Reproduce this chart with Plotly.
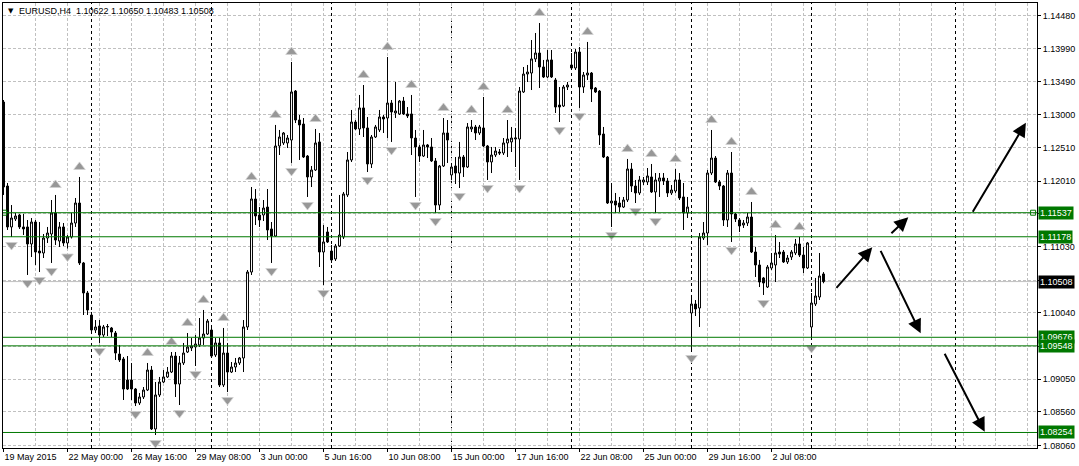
import plotly.graph_objects as go

# ---------------- data (EURUSD H4, bar index 0 = 19 May 2015 08:00) ----------------
OPEN = [1.13191,1.11936,1.11324,1.11443,1.11503,1.11324,1.11324,1.11070,1.11398,1.10965,
        1.10935,1.11159,1.11219,1.11533,1.11114,1.11324,1.11085,1.11174,1.11383,1.11682,
        1.10786,1.10338,1.10009,1.09785,1.09845,1.09710,1.09830,1.09815,1.09740,1.09426,
        1.09352,1.09038,1.09038,1.08903,1.08694,1.08784,1.08888,1.09187,1.08306,1.08814,
        1.09008,1.09083,1.09157,1.09396,1.08978,1.09292,1.09456,1.09516,1.09531,1.09561,
        1.09665,1.09725,1.09785,1.09411,1.09591,1.08963,1.09441,1.09157,1.09232,1.09292,
        1.09367,1.09830,1.10651,1.11742,1.11503,1.11503,1.11622,1.11294,1.11189,1.12534,
        1.12579,1.12579,1.12623,1.13355,1.12922,1.12862,1.12384,1.12071,1.12175,1.12594,
        1.10950,1.11249,1.10965,1.10846,1.11040,1.11174,1.11802,1.12325,1.12892,1.12788,
        1.13102,1.12803,1.12265,1.12668,1.12773,1.12967,1.12952,1.13176,1.13027,1.13012,
        1.13206,1.13012,1.13012,1.12653,1.12519,1.12384,1.12549,1.12519,1.12310,1.11652,
        1.12235,1.12728,1.12101,1.12235,1.12130,1.12369,1.12220,1.12788,1.12818,1.12728,
        1.12803,1.12534,1.12295,1.12399,1.12444,1.12429,1.12579,1.12594,1.12638,1.12638,
        1.13341,1.13609,1.13624,1.13834,1.13923,1.13714,1.13565,1.13819,1.13520,1.13146,
        1.13131,1.13415,1.13744,1.13699,1.13938,1.13415,1.13594,1.13624,1.13400,1.13355,
        1.12713,1.12369,1.11682,1.11712,1.11682,1.11622,1.11727,1.12190,1.11936,1.11832,
        1.11996,1.11996,1.12071,1.11847,1.12011,1.12056,1.12011,1.11832,1.11861,1.12026,
        1.11772,1.11533,1.10039,1.10173,1.10113,1.11159,1.11234,1.12130,1.12354,1.11996,
        1.11936,1.11428,1.12130,1.11518,1.11428,1.11353,1.11383,1.11473,1.10950,1.10756,
        1.10562,1.10427,1.10711,1.10756,1.10950,1.10950,1.10801,1.10875,1.10935,1.11070,
        1.10905,1.10711,1.09830,1.10173,1.10278,1.10622]

HIGH = [1.13221,1.11981,1.11652,1.11533,1.11518,1.11518,1.11428,1.11458,1.11428,1.11398,
        1.11219,1.11324,1.11727,1.11802,1.11398,1.11383,1.11204,1.11533,1.11757,1.12071,
        1.10801,1.10368,1.10054,1.09934,1.09934,1.09860,1.09874,1.09830,1.09770,1.09561,
        1.09382,1.09396,1.09292,1.08918,1.08844,1.08933,1.09292,1.09247,1.09008,1.09083,
        1.09187,1.09232,1.09456,1.09456,1.09396,1.09591,1.09740,1.09665,1.09710,1.09964,
        1.10084,1.09949,1.09815,1.09665,1.09665,1.09815,1.09591,1.09307,1.09367,1.09382,
        1.09934,1.10681,1.11921,1.11891,1.11622,1.11727,1.11891,1.11398,1.12848,1.12773,
        1.12743,1.12698,1.13789,1.13370,1.12997,1.12952,1.12399,1.12235,1.12788,1.12728,
        1.11353,1.11324,1.11055,1.11070,1.11802,1.11847,1.12444,1.13072,1.12922,1.13296,
        1.13445,1.12967,1.12698,1.12848,1.13072,1.12997,1.13863,1.13221,1.13490,1.13221,
        1.13266,1.13116,1.13296,1.12773,1.12549,1.12773,1.12564,1.12653,1.12354,1.12250,
        1.12952,1.12922,1.12280,1.12369,1.12594,1.12399,1.12877,1.12922,1.12848,1.12848,
        1.13266,1.12549,1.12519,1.12519,1.12489,1.12653,1.12922,1.12818,1.12803,1.13415,
        1.13714,1.13744,1.14117,1.14222,1.14371,1.13819,1.13968,1.13968,1.13550,1.13415,
        1.13445,1.13490,1.13923,1.13983,1.14013,1.13639,1.14088,1.13639,1.13415,1.13370,
        1.12818,1.12384,1.11981,1.11832,1.11772,1.11772,1.12340,1.12280,1.12026,1.12086,
        1.12071,1.12205,1.12265,1.12130,1.12130,1.12130,1.12056,1.11951,1.12190,1.12130,
        1.11981,1.11772,1.10308,1.10233,1.11234,1.11398,1.12175,1.12773,1.12384,1.12026,
        1.11951,1.12175,1.12444,1.11533,1.11458,1.11428,1.11533,1.11697,1.11025,1.10831,
        1.10577,1.10756,1.10935,1.11204,1.11100,1.10980,1.10905,1.10980,1.11145,1.11174,
        1.11025,1.11100,1.10338,1.10562,1.10935,1.10650]

LOW = [1.11802,1.11279,1.11174,1.11413,1.11294,1.11204,1.10607,1.10875,1.10756,1.10651,
       1.10860,1.11085,1.10786,1.11055,1.11025,1.11040,1.11002,1.11152,1.11324,1.10756,
       1.10009,1.10009,1.09755,1.09740,1.09591,1.09680,1.09695,1.09680,1.09337,1.09307,
       1.08739,1.08888,1.08739,1.08649,1.08664,1.08754,1.08873,1.08291,1.08216,1.08784,
       1.08993,1.09068,1.09142,1.08784,1.08664,1.09262,1.09441,1.09471,1.09247,1.09531,
       1.09561,1.09710,1.09382,1.09382,1.08933,1.08933,1.08858,1.09142,1.09157,1.09262,
       1.09157,1.09785,1.10607,1.11353,1.11324,1.11413,1.11129,1.10786,1.11174,1.12399,
       1.12549,1.12504,1.12280,1.12877,1.12325,1.12354,1.11772,1.11921,1.12160,1.10726,
       1.10457,1.11085,1.10786,1.10816,1.11025,1.11144,1.11772,1.12295,1.12773,1.12698,
       1.12668,1.12145,1.12205,1.12653,1.12743,1.12728,1.12653,1.12594,1.12952,1.12997,
       1.12997,1.12952,1.12399,1.11772,1.12295,1.12369,1.12354,1.12295,1.11533,1.11578,
       1.12220,1.12280,1.12026,1.11966,1.11906,1.12071,1.12205,1.12743,1.12623,1.12698,
       1.12519,1.12026,1.12130,1.12369,1.12399,1.12399,1.12369,1.12444,1.12220,1.12026,
       1.13326,1.13490,1.13370,1.13789,1.13400,1.13550,1.13550,1.13550,1.13027,1.12892,
       1.13116,1.13370,1.13669,1.13669,1.13102,1.13326,1.13520,1.13191,1.13326,1.12549,
       1.12354,1.11667,1.11324,1.11533,1.11548,1.11607,1.11697,1.11846,1.11682,1.11802,
       1.11951,1.11951,1.11832,1.11533,1.11772,1.11951,1.11772,1.11802,1.11832,1.11727,
       1.11279,1.11458,1.09486,1.09994,1.09830,1.11129,1.11055,1.12100,1.11981,1.11876,
       1.11339,1.11324,1.11100,1.11398,1.11249,1.11309,1.11339,1.10935,1.10577,1.10427,
       1.10308,1.10412,1.10681,1.10502,1.10860,1.10786,1.10771,1.10831,1.10905,1.10875,
       1.10636,1.10696,1.09635,1.10143,1.10233,1.10483]

CLOSE = [1.11921,1.11324,1.11458,1.11488,1.11324,1.11294,1.11070,1.11398,1.10950,1.10935,
         1.11159,1.11234,1.11533,1.11129,1.11324,1.11085,1.11174,1.11383,1.11682,1.10786,
         1.10338,1.10084,1.09785,1.09830,1.09710,1.09830,1.09837,1.09755,1.09441,1.09337,
         1.08903,1.08903,1.08903,1.08694,1.08784,1.08888,1.09187,1.08306,1.08814,1.09008,
         1.09083,1.09157,1.09396,1.08978,1.09292,1.09441,1.09531,1.09546,1.09576,1.09665,
         1.09725,1.09919,1.09396,1.09591,1.08963,1.09441,1.09157,1.09232,1.09292,1.09367,
         1.09830,1.10651,1.11742,1.11488,1.11428,1.11607,1.11279,1.11189,1.12534,1.12668,
         1.12728,1.12653,1.13341,1.12922,1.12848,1.12369,1.12071,1.12175,1.12579,1.10950,
         1.11100,1.11100,1.10831,1.11040,1.11204,1.11817,1.12325,1.12892,1.12788,1.13102,
         1.12803,1.12265,1.12668,1.12818,1.12967,1.12937,1.13176,1.13042,1.13057,1.13206,
         1.13012,1.12982,1.12653,1.12519,1.12384,1.12549,1.12519,1.12310,1.11652,1.12235,
         1.12728,1.12623,1.12220,1.12130,1.12369,1.12220,1.12818,1.12818,1.12728,1.12818,
         1.12534,1.12295,1.12399,1.12459,1.12429,1.12579,1.12638,1.12653,1.12653,1.13355,
         1.13609,1.13639,1.13834,1.13923,1.13714,1.13565,1.13819,1.13565,1.13116,1.13116,
         1.13415,1.13445,1.13699,1.13938,1.13415,1.13594,1.13624,1.13385,1.13341,1.12698,
         1.12369,1.11682,1.11712,1.11652,1.11622,1.11727,1.12190,1.11936,1.11832,1.12026,
         1.12026,1.12086,1.11847,1.12026,1.12056,1.12011,1.11832,1.11876,1.12026,1.11757,
         1.11533,1.11622,1.10173,1.10099,1.11174,1.11234,1.12130,1.12354,1.11996,1.11936,
         1.11428,1.12130,1.11518,1.11443,1.11339,1.11383,1.11473,1.10950,1.10756,1.10502,
         1.10487,1.10726,1.10786,1.10935,1.10920,1.10801,1.10860,1.10950,1.11070,1.10905,
         1.10711,1.11085,1.10188,1.10293,1.10592,1.10508]

BAR_INDEX = list(range(len(OPEN)))

# Bill Williams fractals (bar indices)
FRACTAL_UP = [13, 19, 36, 42, 46, 50, 55, 62, 68, 72, 78, 90, 96, 102, 110, 117, 120,
              126, 134, 146, 156, 162, 168, 177, 182, 187, 193, 199]
FRACTAL_DOWN = [2, 6, 9, 12, 16, 24, 33, 38, 44, 48, 56, 67, 72, 76, 80, 91, 97, 103,
                108, 114, 121, 129, 139, 144, 152, 158, 163, 172, 182, 190, 202]

X_TICK_LABELS = ["19 May 2015", "22 May 00:00", "26 May 16:00", "29 May 08:00",
                 "3 Jun 00:00", "5 Jun 16:00", "10 Jun 08:00", "15 Jun 00:00",
                 "17 Jun 16:00", "22 Jun 08:00", "25 Jun 00:00", "29 Jun 16:00",
                 "2 Jul 08:00"]
BARS_PER_LABEL = 16

Y_TICKS = [1.14480, 1.13990, 1.13490, 1.13000, 1.12510, 1.12010, 1.11520, 1.11030,
           1.10530, 1.10040, 1.09540, 1.09050, 1.08560, 1.08060]
Y_TICKS_HIDDEN = [1.11520, 1.10530, 1.09540]

WEEK_SEPARATORS = [22, 52, 82, 112, 142, 172, 202, 238]

LEVELS = [1.11537, 1.11178, 1.09676, 1.09548, 1.08254]
CURRENT_PRICE = 1.10508

# drawn arrows: tail bar, tail price, head bar, head price
ARROW_TAIL_X = [207.9, 221.6, 219.1, 242.1, 235.1]
ARROW_TAIL_Y = [1.10393, 1.11209, 1.10990, 1.11528, 1.09452]
ARROW_HEAD_X = [217.2, 226.2, 229.3, 255.6, 245.3]
ARROW_HEAD_Y = [1.11020, 1.11469, 1.09735, 1.12882, 1.08265]

TITLE = "EURUSD,H4  1.10622 1.10650 1.10483 1.10508"

# ---------------- figure ----------------
FONT = "Liberation Sans, Arial, sans-serif"
GRID = "#c0c0c0"
GREEN = "#007800"
X_RANGE = [-0.125, 258.375]
Y_RANGE = [1.08022, 1.14670]

fig = go.Figure()

fig.add_trace(go.Candlestick(
    x=BAR_INDEX, open=OPEN, high=HIGH, low=LOW, close=CLOSE,
    increasing=dict(line=dict(color="black", width=1), fillcolor="white"),
    decreasing=dict(line=dict(color="black", width=1), fillcolor="black"),
    whiskerwidth=0, showlegend=False, hoverinfo="skip"))

fig.add_trace(go.Scatter(
    x=FRACTAL_UP, y=[HIGH[i] + 0.0015 for i in FRACTAL_UP], mode="markers",
    marker=dict(symbol="triangle-up", size=10, color="#979797",
                line=dict(color="#d0d0d0", width=0.8)),
    showlegend=False, hoverinfo="skip"))
fig.add_trace(go.Scatter(
    x=FRACTAL_DOWN, y=[LOW[i] - 0.0012 for i in FRACTAL_DOWN], mode="markers",
    marker=dict(symbol="triangle-down", size=10, color="#979797",
                line=dict(color="#d0d0d0", width=0.8)),
    showlegend=False, hoverinfo="skip"))

# anchor squares of the selected horizontal line
fig.add_trace(go.Scatter(
    x=[0.15, 257.4], y=[LEVELS[0], LEVELS[0]], mode="markers",
    marker=dict(symbol="square-open", size=5, color=GREEN, line=dict(width=1)),
    showlegend=False, hoverinfo="skip"))

shapes = []
for b in WEEK_SEPARATORS:
    shapes.append(dict(type="line", xref="x", yref="paper", x0=b, x1=b, y0=0, y1=1,
                       line=dict(color="black", width=1, dash="3px,3px"), layer="below"))
shapes.append(dict(type="line", xref="paper", yref="y", x0=0, x1=1,
                   y0=CURRENT_PRICE, y1=CURRENT_PRICE,
                   line=dict(color="#c0c0c0", width=1), layer="below"))
for lv in LEVELS:
    shapes.append(dict(type="line", xref="paper", yref="y", x0=0, x1=1, y0=lv, y1=lv,
                       line=dict(color=GREEN, width=1)))

annotations = []
for tx, ty, hx, hy in zip(ARROW_TAIL_X, ARROW_TAIL_Y, ARROW_HEAD_X, ARROW_HEAD_Y):
    annotations.append(dict(x=hx, y=hy, ax=tx, ay=ty, xref="x", yref="y",
                            axref="x", ayref="y", text="", showarrow=True,
                            arrowhead=2, arrowsize=1.4, arrowwidth=2,
                            arrowcolor="black", standoff=0, startstandoff=0))
for lv in LEVELS:
    annotations.append(dict(x=1, y=lv, xref="paper", yref="y", xanchor="left",
                            yanchor="middle", xshift=1, text=f"{lv:.5f}",
                            showarrow=False, bgcolor=GREEN, borderpad=1,
                            font=dict(family=FONT, size=9, color="white")))
annotations.append(dict(x=1, y=CURRENT_PRICE, xref="paper", yref="y", xanchor="left",
                        yanchor="middle", xshift=1, text=f"{CURRENT_PRICE:.5f}",
                        showarrow=False, bgcolor="black", borderpad=1,
                        font=dict(family=FONT, size=9, color="white")))
annotations.append(dict(x=0, y=1, xref="paper", yref="paper", xanchor="left",
                        yanchor="top", xshift=3, yshift=-2, text="▼", showarrow=False,
                        font=dict(family="DejaVu Sans", size=7, color="black")))
annotations.append(dict(x=0, y=1, xref="paper", yref="paper", xanchor="left",
                        yanchor="top", xshift=14, yshift=-1, text=TITLE, showarrow=False,
                        font=dict(family=FONT, size=9, color="black")))

fig.update_layout(
    width=1079, height=466,
    margin=dict(l=3, r=42, t=3, b=18),
    paper_bgcolor="white", plot_bgcolor="white",
    shapes=shapes, annotations=annotations,
    font=dict(family=FONT, size=9, color="black"),
    xaxis=dict(
        range=X_RANGE, rangeslider=dict(visible=False),
        tickmode="array",
        tickvals=[BARS_PER_LABEL * k for k in range(len(X_TICK_LABELS))],
        ticktext=X_TICK_LABELS, ticklabelposition="outside right",
        ticks="outside", ticklen=3, tickcolor="black",
        showgrid=True, gridcolor=GRID, griddash="3px,2px", gridwidth=1,
        minor=dict(tickmode="linear", tick0=0, dtick=8, showgrid=True,
                   gridcolor=GRID, griddash="3px,2px", ticks=""),
        showline=True, mirror=True, linecolor="black", linewidth=1,
        zeroline=False, tickfont=dict(family=FONT, size=9, color="black")),
    yaxis=dict(
        range=Y_RANGE, side="right", tickmode="array", tickvals=Y_TICKS,
        ticktext=["" if t in Y_TICKS_HIDDEN else f"{t:.5f}" for t in Y_TICKS],
        ticks="outside", ticklen=3, tickcolor="black",
        showgrid=True, gridcolor=GRID, griddash="3px,2px", gridwidth=1,
        showline=True, mirror=True, linecolor="black", linewidth=1,
        zeroline=False, tickfont=dict(family=FONT, size=9, color="black")),
)

fig.write_html(
    "out.html",
    config={"displayModeBar": False},
    post_script="document.body.style.margin='0';document.body.style.overflow='hidden';",
)
